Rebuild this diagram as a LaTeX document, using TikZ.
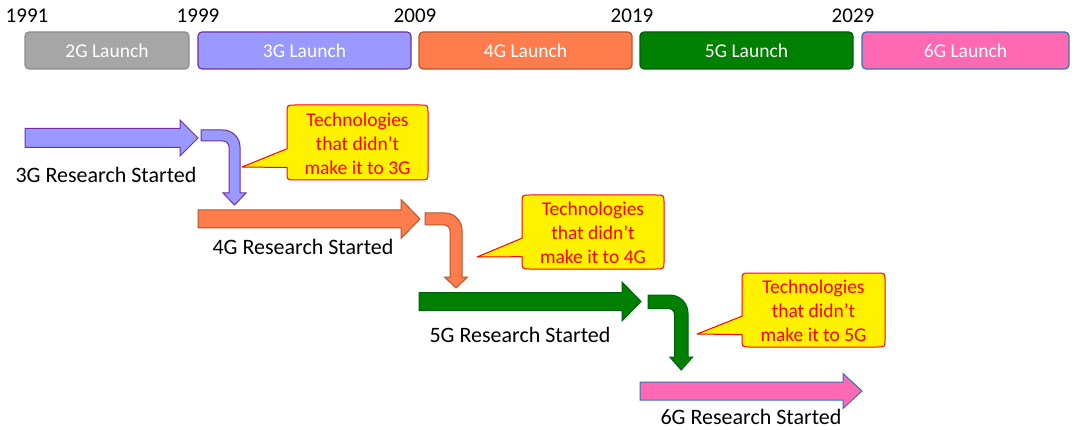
\documentclass[tikz,border=0pt]{standalone}
\usepackage{fontspec}
\setmainfont{Carlito}
\definecolor{gentwo}{HTML}{A6A6A6}
\definecolor{genthree}{HTML}{9999FF}
\definecolor{genfour}{HTML}{FF7C4C}
\definecolor{genfive}{HTML}{008000}
\definecolor{gensix}{HTML}{FF69B4}
\definecolor{purpleline}{HTML}{7030A0}
\definecolor{brownline}{HTML}{B5562B}
\definecolor{greenline}{HTML}{00600A}
\definecolor{blueline}{HTML}{2E75B6}
% straight block arrow: style, left, head base, tip, mid y, half shaft, half head
\newcommand{\fatarrow}[7]{%
\draw[#1] (#2,#5-#6) -- (#3,#5-#6) -- (#3,#5-#7) -- (#4,#5) -- (#3,#5+#7) -- (#3,#5+#6) -- (#2,#5+#6) -- cycle;}
% bent block arrow: style, start x, top y, outer x, thickness, head base y, half head, tip y, radius
\newcommand{\bentarrow}[9]{%
\draw[#1] (#2,#3) -- (#4-#9,#3) .. controls (#4-#9*0.45,#3) and (#4,#3+#9*0.45) .. (#4,#3+#9) -- (#4,#6)
  -- (#4-#5/2+#7,#6) -- (#4-#5/2,#8) -- (#4-#5/2-#7,#6) -- (#4-#5,#6)
  -- (#4-#5,#3+#5+6) .. controls (#4-#5,#3+#5+2.7) and (#4-#5-2.7,#3+#5) .. (#4-#5-6,#3+#5) -- (#2,#3+#5) -- cycle;}
% yellow speech box: name, x1, y1, x2, y2, tip x, tip y, text
\newcommand{\wedgebox}[8]{%
\draw[wedge] (#2+8,#3) -- (#4-8,#3) .. controls (#4,#3) .. (#4,#3+8) -- (#4,#5-8)
  .. controls (#4,#5) .. (#4-8,#5) -- (#2+8,#5) .. controls (#2,#5) .. (#2,#5-8)
  -- (#2,{#3+(#5-#3)*10/12}) -- (#6,#7) -- (#2,{#3+(#5-#3)*7/12})
  -- (#2,#3+8) .. controls (#2,#3) .. (#2+8,#3) -- cycle;
\node[wedgetext] (#1) at ({(#2+#4)/2},{(#3+#5)/2+1}) {#8};}
\tikzset{
  launch/.style={draw,rounded corners=4pt,line width=1.2pt,minimum height=37pt,inner sep=0pt,
    text=white,font=\fontsize{19.5}{20}\selectfont},
  year/.style={anchor=base,inner sep=0pt,font=\fontsize{21}{22}\selectfont},
  research/.style={inner sep=0pt,font=\fontsize{22}{24}\selectfont},
  wedge/.style={draw=red,fill=yellow,line width=1pt,line join=round},
  wedgetext/.style={text=red,align=center,inner sep=0pt,font=\fontsize{19.5}{24}\selectfont}
}
\begin{document}
\begin{tikzpicture}[x=1pt,y=-1pt]
\useasboundingbox (0,0) rectangle (1075,430);
% launch bar
\node[launch,fill=gentwo,draw=gentwo!85!black,minimum width=164pt] (l2g) at (107,50.5) {2G Launch};
\node[launch,fill=genthree,draw=purpleline,minimum width=213pt] (l3g) at (304.5,50.5) {3G Launch};
\node[launch,fill=genfour,draw=brownline,minimum width=213pt] (l4g) at (525.5,50.5) {4G Launch};
\node[launch,fill=genfive,draw=greenline,minimum width=213pt] (l5g) at (746.5,50.5) {5G Launch};
\node[launch,fill=gensix,draw=blueline,minimum width=207pt] (l6g) at (965.5,50.5) {6G Launch};
\node[year] (y91) at (27,23) {1991};
\node[year] (y99) at (198,23) {1999};
\node[year] (y09) at (415,23) {2009};
\node[year] (y19) at (632,23) {2019};
\node[year] (y29) at (853,23) {2029};
% research arrows
\fatarrow{fill=genthree,draw=purpleline,line width=1pt}{25}{180}{198}{138}{9.5}{18}
\fatarrow{fill=genfour,draw=brownline,line width=1pt}{198}{401}{420}{219}{9}{19.5}
\fatarrow{fill=genfive,draw=greenline,line width=1pt}{419}{622}{641}{301.5}{9}{19.5}
\fatarrow{fill=gensix,draw=blueline,line width=1pt}{640}{843}{862}{391}{9}{17.5}
\node[research] (r3g) at (106,175) {3G Research Started};
\node[research] (r4g) at (303,247) {4G Research Started};
\node[research] (r5g) at (520,335) {5G Research Started};
\node[research] (r6g) at (751,417) {6G Research Started};
% drop-outs
\bentarrow{fill=genthree,draw=purpleline,line width=1pt}{201}{130}{240}{11}{193}{11.5}{205}{17}
\bentarrow{fill=genfour,draw=brownline,line width=1pt}{425}{213}{462}{12}{277}{11.5}{288}{17}
\bentarrow{fill=genfive,draw=greenline,line width=1pt}{648}{295}{688}{13.5}{357}{11.5}{370}{18}
\wedgebox{w3g}{287}{105}{428}{180}{242}{167}{Technologies\\that didn’t\\make it to 3G}
\wedgebox{w4g}{522}{195}{664}{269}{477}{257}{Technologies\\that didn’t\\make it to 4G}
\wedgebox{w5g}{742}{273}{885}{347}{697}{334}{Technologies\\that didn’t\\make it to 5G}
\end{tikzpicture}
\end{document}
